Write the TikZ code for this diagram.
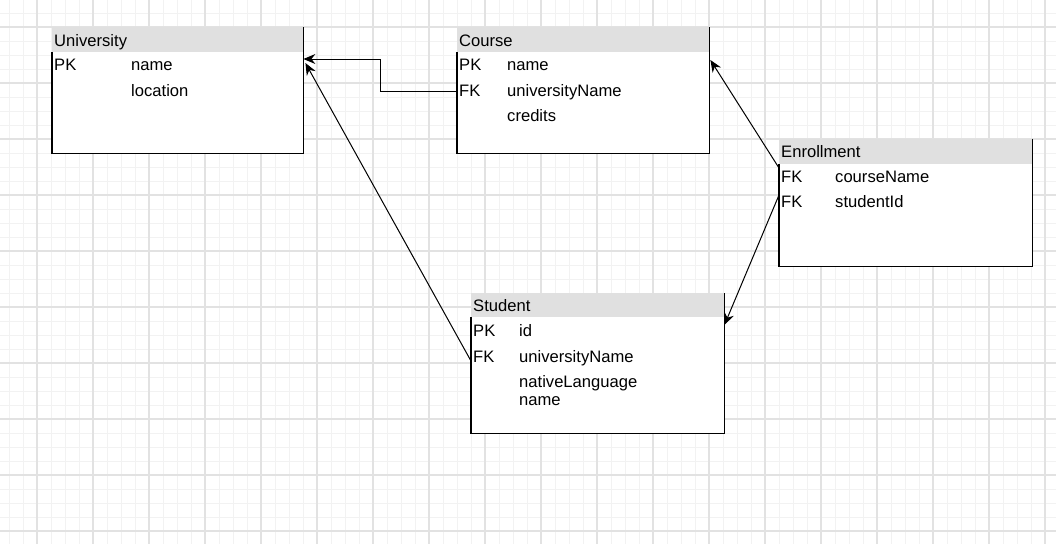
\documentclass[tikz,border=0pt]{standalone}
\usepackage{fontspec}
\setmainfont{Liberation Sans}
\usetikzlibrary{arrows.meta,calc}
\definecolor{gridmajor}{HTML}{E2E2E2}
\definecolor{gridminor}{HTML}{F2F2F2}
\definecolor{headgray}{HTML}{E0E0E0}
\begin{document}
\begin{tikzpicture}[x=1pt,y=-1pt,
  minorline/.style={draw=gridminor, line width=1pt},
  majorline/.style={draw=gridmajor, line width=1.4pt},
  tbl/.style={draw=none, fill=white, anchor=north west, inner sep=0pt},
  headfill/.style={fill=headgray},
  tblborder/.style={draw=black, line width=1.1pt},
  txt/.style={anchor=base west, inner sep=0pt, font=\fontsize{16.6}{19}\selectfont},
  conn/.style={draw=black, line width=1pt, -{Stealth[length=12pt,width=10pt,inset=4pt]}}]
\useasboundingbox (0,0) rectangle (1056,544);
\fill[white] (0,0) rectangle (1056,544);
% grid
\foreach \x in {9,23,...,1055} \draw[minorline] (\x,0) -- (\x,544);
\foreach \y in {13,27,...,543} \draw[minorline] (0,\y) -- (1056,\y);
\foreach \x in {37,93,...,1045} \draw[majorline] (\x,0) -- (\x,544);
\foreach \y in {27,83,...,531} \draw[majorline] (0,\y) -- (1056,\y);

% University
\node[tbl, minimum width=251pt, minimum height=126pt] (univ) at (52,27) {};
\fill[headfill] (univ.north west) rectangle ($(univ.north east)+(0,25)$);
\draw[tblborder] ($(univ.north west)+(0,25)$) -- (univ.south west) -- (univ.south east) -- (univ.north east);
\node[txt] (univ-h) at (54,46) {University};
\node[txt] (univ-pk) at (54,70) {PK};
\node[txt] (univ-name) at (131,70) {name};
\node[txt] (univ-loc) at (131,96) {location};

% Course
\node[tbl, minimum width=252pt, minimum height=126pt] (course) at (457,27) {};
\fill[headfill] (course.north west) rectangle ($(course.north east)+(0,25)$);
\draw[tblborder] ($(course.north west)+(0,25)$) -- (course.south west) -- (course.south east) -- (course.north east);
\node[txt] (course-h) at (459,46) {Course};
\node[txt] (course-pk) at (459,70) {PK};
\node[txt] (course-name) at (507,70) {name};
\node[txt] (course-fk) at (459,96) {FK};
\node[txt] (course-uni) at (507,96) {universityName};
\node[txt] (course-cr) at (507,121.5) {credits};

% Enrollment
\node[tbl, minimum width=253pt, minimum height=127pt] (enroll) at (779,139) {};
\fill[headfill] (enroll.north west) rectangle ($(enroll.north east)+(0,25)$);
\draw[tblborder] ($(enroll.north west)+(0,25)$) -- (enroll.south west) -- (enroll.south east) -- (enroll.north east);
\node[txt] (enroll-h) at (781,157) {Enrollment};
\node[txt] (enroll-fk1) at (781,182) {FK};
\node[txt] (enroll-cn) at (835,182) {courseName};
\node[txt] (enroll-fk2) at (781,207.5) {FK};
\node[txt] (enroll-sid) at (835,207.5) {studentId};

% Student
\node[tbl, minimum width=253pt, minimum height=140pt] (student) at (471,293) {};
\fill[headfill] (student.north west) rectangle ($(student.north east)+(0,24)$);
\draw[tblborder] ($(student.north west)+(0,24)$) -- (student.south west) -- (student.south east) -- (student.north east);
\node[txt] (student-h) at (473,311) {Student};
\node[txt] (student-pk) at (473,336) {PK};
\node[txt] (student-id) at (519,336) {id};
\node[txt] (student-fk) at (473,362) {FK};
\node[txt] (student-uni) at (519,362) {universityName};
\node[txt] (student-nl) at (519,387) {nativeLanguage};
\node[txt] (student-name) at (519,405) {name};

% connectors
\draw[conn] ($(course.north west)+(0,64)$) -- ++(-77,0) |- ($(univ.north east)+(0,32)$);
\draw[conn] ($(student.north west)+(0,68)$) -- ($(univ.north east)+(2,36)$);
\draw[conn] ($(enroll.north west)+(0,29)$) -- ($(course.north east)+(1,33)$);
\draw[conn] ($(enroll.north west)+(0,56)$) -- ($(student.north east)+(0,32)$);
\end{tikzpicture}
\end{document}
